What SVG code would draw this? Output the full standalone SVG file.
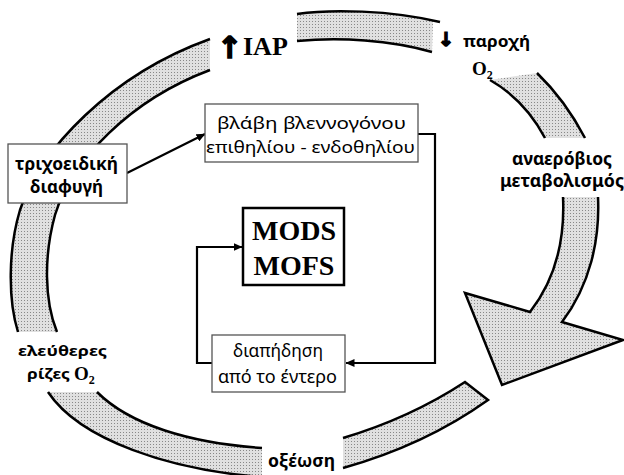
<svg xmlns="http://www.w3.org/2000/svg" width="624" height="475" viewBox="0 0 624 475">
<defs>
<pattern id="dots" width="3" height="3" patternUnits="userSpaceOnUse">
<rect width="3" height="3" fill="#e0e0e0"/>
<rect width="1" height="1" fill="#888"/>
</pattern>
<marker id="ah" markerWidth="9" markerHeight="8" refX="8.5" refY="4" orient="auto" markerUnits="userSpaceOnUse">
<path d="M0,0 L9,4 L0,8 Z" fill="#000"/>
</marker>
<style>
.band{fill:url(#dots);stroke:none}
.edge{fill:none;stroke:#000;stroke-width:2.5;stroke-linejoin:miter}
.lat{font-family:"Liberation Serif",serif;font-weight:bold;fill:#000}
.gb{font-family:"Noto Sans","DejaVu Sans",sans-serif;font-weight:bold;fill:#000}
.gr{font-family:"Noto Sans","DejaVu Sans",sans-serif;fill:#000}
.arr{font-family:"DejaVu Sans",sans-serif;font-weight:bold;fill:#000;stroke:#000}
.box{fill:#fff;stroke:#555;stroke-width:1.3}
.conn{fill:none;stroke:#000;stroke-width:2.2}
</style>
</defs>
<g id="ring">
<path class="band" d="M18,332 C8,300 8,250 20,210 C40,150 110,75 210,39 L210,70 C130,100 72,160 55,215 C44,255 44,300 57,332 Z"/>
<path class="edge" d="M18,332 C8,300 8,250 20,210 C40,150 110,75 210,39"/>
<path class="edge" d="M57,332 C44,300 44,255 55,215 C72,160 130,100 210,70"/>
<path class="band" d="M297,14 C330,9 390,10 433,21 L432,52 C390,40 340,37 297,41 Z"/>
<path class="edge" d="M297,14 C330,9 390,10 440,22"/>
<path class="edge" d="M297,41 C340,37 390,40 432,52"/>
<path class="band" d="M490,80 L537,73 Q565,100 585,138 L545,138 Q525,100 490,80 Z"/>
<path class="edge" d="M537,73 Q565,100 585,138"/>
<path class="edge" d="M490,80 Q525,100 545,138"/>
<path class="edge" style="fill:url(#dots)" d="M598,197 C600,240 590,285 562,322 L623,340 L502,385 L465,293 L530,312 C555,280 565,240 563,197"/>
<path class="edge" style="fill:url(#dots)" d="M343,438 Q410,418 465,382 L488,400 Q425,445 343,468"/>
<path class="band" d="M48,392 C80,440 170,470 262,477 L262,448 C190,443 130,425 97,392 Z"/>
<path class="edge" d="M48,392 C80,440 170,470 262,477"/>
<path class="edge" d="M97,392 C130,425 190,443 262,448"/>
</g>
<g id="ring-labels">
<text class="arr" font-size="30" stroke-width="1.6" x="217" y="58">↑</text>
<text class="lat" font-size="26" x="243" y="55">IAP</text>
<text class="arr" font-size="19" stroke-width="1.4" x="438" y="46">↓</text>
<text class="gb" font-size="16" x="463" y="47" textLength="67" lengthAdjust="spacingAndGlyphs">παροχή</text>
<text class="lat" font-size="19" x="472" y="75">O<tspan font-size="12" dy="4">2</tspan></text>
<text class="gb" font-size="17" text-anchor="middle" x="562" y="165" textLength="100" lengthAdjust="spacingAndGlyphs">αναερόβιος</text>
<text class="gb" font-size="17" text-anchor="middle" x="562" y="187" textLength="124" lengthAdjust="spacingAndGlyphs">μεταβολισμός</text>
<text class="gb" font-size="17" text-anchor="middle" x="301.5" y="467" textLength="67" lengthAdjust="spacingAndGlyphs">οξέωση</text>
<text class="gb" font-size="15" text-anchor="middle" x="62.5" y="356" textLength="89" lengthAdjust="spacingAndGlyphs">ελεύθερες</text>
<text class="gb" font-size="15" x="27" y="379" textLength="43" lengthAdjust="spacingAndGlyphs">ρίζες</text>
<text class="lat" font-size="19" x="74" y="380">O<tspan font-size="12" dy="4">2</tspan></text>
</g>
<g id="connectors">
<line class="conn" x1="127" y1="173" x2="205" y2="134" marker-end="url(#ah)"/>
<polyline class="conn" points="418,134 435,134 435,363 346,363" marker-end="url(#ah)"/>
<polyline class="conn" points="212,363 197,363 197,247 242,247" marker-end="url(#ah)"/>
</g>
<g id="node-trichoeidiki">
<rect class="box" x="8" y="144" width="119" height="59"/>
<text class="gb" font-size="17" text-anchor="middle" x="66.5" y="170" textLength="103" lengthAdjust="spacingAndGlyphs">τριχοειδική</text>
<text class="gb" font-size="17" text-anchor="middle" x="66.5" y="193" textLength="73" lengthAdjust="spacingAndGlyphs">διαφυγή</text>
</g>
<g id="node-vlavi">
<rect class="box" x="205" y="104" width="213" height="58"/>
<text class="gr" font-size="17" text-anchor="middle" x="311.5" y="129" textLength="189" lengthAdjust="spacingAndGlyphs">βλάβη βλεννογόνου</text>
<text class="gr" font-size="17" text-anchor="middle" x="310.5" y="153" textLength="209" lengthAdjust="spacingAndGlyphs">επιθηλίου - ενδοθηλίου</text>
</g>
<g id="node-mods">
<rect x="243" y="208" width="101" height="77" fill="#fff" stroke="#000" stroke-width="2.5"/>
<text class="lat" font-size="28" text-anchor="middle" x="294" y="240">MODS</text>
<text class="lat" font-size="28" text-anchor="middle" x="294" y="275">MOFS</text>
</g>
<g id="node-diapidisi">
<rect class="box" x="212" y="335" width="133" height="57"/>
<text class="gr" font-size="18" text-anchor="middle" x="278" y="357" textLength="90" lengthAdjust="spacingAndGlyphs">διαπήδηση</text>
<text class="gr" font-size="18" text-anchor="middle" x="277.5" y="383" textLength="119" lengthAdjust="spacingAndGlyphs">από το έντερο</text>
</g>
</svg>
